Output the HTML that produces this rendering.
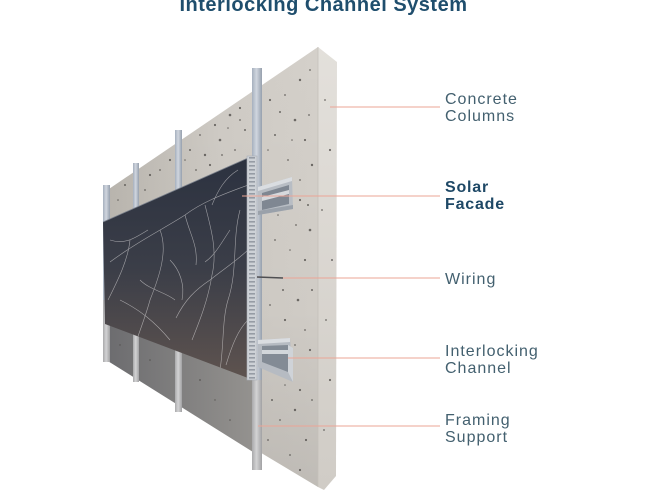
<!DOCTYPE html>
<html>
<head>
<meta charset="utf-8">
<style>
  html,body{margin:0;padding:0;background:#ffffff;}
  body{width:650px;height:492px;overflow:hidden;}
  svg{display:block;}
  .lbl{font-family:"Liberation Sans",Arial,sans-serif;font-size:16px;letter-spacing:1px;fill:#43606f;}
  .bold{font-weight:bold;fill:#1e4866;letter-spacing:0.8px;}
</style>
</head>
<body>
<svg width="650" height="492" viewBox="0 0 650 492" xmlns="http://www.w3.org/2000/svg">
  <defs>
    <linearGradient id="face" x1="103" y1="0" x2="318" y2="0" gradientUnits="userSpaceOnUse">
      <stop offset="0" stop-color="#b9b5ae"/>
      <stop offset="0.55" stop-color="#cfcbc5"/>
      <stop offset="1" stop-color="#d4d0ca"/>
    </linearGradient>
    <linearGradient id="faceV" x1="0" y1="47" x2="0" y2="490" gradientUnits="userSpaceOnUse">
      <stop offset="0" stop-color="#000" stop-opacity="0"/>
      <stop offset="0.6" stop-color="#000" stop-opacity="0.02"/>
      <stop offset="1" stop-color="#000" stop-opacity="0.1"/>
    </linearGradient>
    <linearGradient id="endf" x1="0" y1="47" x2="0" y2="490" gradientUnits="userSpaceOnUse">
      <stop offset="0" stop-color="#e3e0db"/>
      <stop offset="1" stop-color="#d0ccc6"/>
    </linearGradient>
    <linearGradient id="shadow" x1="103" y1="0" x2="253" y2="0" gradientUnits="userSpaceOnUse">
      <stop offset="0" stop-color="#6b6b6e"/>
      <stop offset="1" stop-color="#94928f"/>
    </linearGradient>
    <linearGradient id="panel" x1="0" y1="158" x2="0" y2="378" gradientUnits="userSpaceOnUse">
      <stop offset="0" stop-color="#2c3240"/>
      <stop offset="0.5" stop-color="#3b3e48"/>
      <stop offset="1" stop-color="#5e534f"/>
    </linearGradient>
    <linearGradient id="post" x1="0" y1="0" x2="1" y2="0">
      <stop offset="0" stop-color="#a6b0be"/>
      <stop offset="0.45" stop-color="#d0d6df"/>
      <stop offset="1" stop-color="#96a0ad"/>
    </linearGradient>
    <linearGradient id="postG" x1="0" y1="0" x2="1" y2="0">
      <stop offset="0" stop-color="#a9a9ab"/>
      <stop offset="0.45" stop-color="#d3d3d4"/>
      <stop offset="1" stop-color="#a2a2a4"/>
    </linearGradient>
    <pattern id="perf" x="247" y="156" width="10" height="4" patternUnits="userSpaceOnUse">
      <rect x="0" y="0" width="10" height="4" fill="#cdd1d6"/>
      <rect x="2" y="1" width="6" height="1.6" fill="#969ca5"/>
    </pattern>
    <clipPath id="pc">
      <polygon points="103,222 248,158 248,378 105,324"/>
    </clipPath>
  </defs>

  <!-- Title -->
  <text x="323.5" y="11" text-anchor="middle" font-family="Liberation Sans, Arial, sans-serif" font-size="20" font-weight="bold" letter-spacing="0.5" fill="#1f4e6d">Interlocking Channel System</text>

  <!-- Wall front face -->
  <polygon points="318,47 103,193 103,358 318,487" fill="url(#face)"/>
  <polygon points="318,47 103,193 103,358 318,487" fill="url(#faceV)"/>
  <!-- shadow below panel -->
  <polygon points="103,320 253,376 253,452 103,358" fill="url(#shadow)"/>
  <!-- End face -->
  <polygon points="318,47 337,62 336,476 324,490 318,487" fill="url(#endf)"/>
  <line x1="318" y1="47" x2="318" y2="487" stroke="#c4c0ba" stroke-width="0.8"/>

  <!-- speckles -->
  <g fill="#4a4744" opacity="0.75">
    <circle cx="270" cy="100" r="1.1"/><circle cx="285" cy="95" r="0.9"/><circle cx="300" cy="80" r="1.2"/>
    <circle cx="310" cy="70" r="0.9"/><circle cx="295" cy="120" r="1.3"/><circle cx="275" cy="135" r="1"/>
    <circle cx="305" cy="140" r="1.1"/><circle cx="288" cy="160" r="0.9"/><circle cx="312" cy="165" r="1.2"/>
    <circle cx="268" cy="150" r="0.8"/><circle cx="300" cy="200" r="1.1"/><circle cx="310" cy="230" r="1.3"/>
    <circle cx="296" cy="225" r="0.9"/><circle cx="305" cy="260" r="1.1"/><circle cx="290" cy="250" r="0.8"/>
    <circle cx="312" cy="290" r="1"/><circle cx="298" cy="300" r="1.3"/><circle cx="270" cy="305" r="0.9"/>
    <circle cx="285" cy="320" r="1.1"/><circle cx="305" cy="330" r="0.9"/><circle cx="300" cy="390" r="1.1"/>
    <circle cx="312" cy="400" r="0.9"/><circle cx="295" cy="410" r="1.2"/><circle cx="280" cy="420" r="0.9"/>
    <circle cx="306" cy="440" r="1.1"/><circle cx="290" cy="455" r="0.9"/><circle cx="300" cy="470" r="1.1"/>
    <circle cx="272" cy="400" r="1"/><circle cx="310" cy="350" r="1.1"/><circle cx="275" cy="240" r="0.9"/>
    <circle cx="280" cy="112" r="1"/><circle cx="292" cy="140" r="0.8"/><circle cx="266" cy="190" r="0.9"/>
    <circle cx="300" cy="180" r="0.9"/><circle cx="278" cy="215" r="0.8"/><circle cx="308" cy="205" r="1"/>
    <circle cx="283" cy="290" r="1"/><circle cx="295" cy="345" r="0.9"/><circle cx="276" cy="360" r="0.8"/>
    <circle cx="268" cy="440" r="0.9"/><circle cx="285" cy="385" r="0.8"/><circle cx="309" cy="115" r="0.9"/>
    <circle cx="240" cy="108" r="1.1"/><circle cx="230" cy="115" r="1.3"/><circle cx="245" cy="130" r="1"/>
    <circle cx="215" cy="125" r="1.1"/><circle cx="220" cy="140" r="1.3"/><circle cx="200" cy="135" r="0.9"/>
    <circle cx="205" cy="155" r="1.2"/><circle cx="190" cy="150" r="1"/><circle cx="170" cy="160" r="1.1"/>
    <circle cx="160" cy="170" r="0.9"/><circle cx="150" cy="175" r="1.1"/><circle cx="125" cy="185" r="1"/>
    <circle cx="235" cy="150" r="0.9"/><circle cx="210" cy="165" r="1.1"/><circle cx="228" cy="128" r="0.8"/>
    <circle cx="196" cy="170" r="0.9"/><circle cx="240" cy="120" r="0.9"/><circle cx="185" cy="160" r="0.8"/>
    <circle cx="145" cy="190" r="0.9"/><circle cx="118" cy="200" r="0.8"/><circle cx="222" cy="155" r="0.9"/>
    <circle cx="325" cy="100" r="0.9"/><circle cx="330" cy="150" r="1.1"/><circle cx="322" cy="210" r="0.9"/>
    <circle cx="332" cy="260" r="1"/><circle cx="326" cy="320" r="0.9"/><circle cx="330" cy="380" r="1.1"/>
    <circle cx="324" cy="430" r="0.9"/>
    <circle cx="150" cy="360" r="0.8"/><circle cx="200" cy="380" r="0.9"/><circle cx="230" cy="420" r="0.8"/>
    <circle cx="120" cy="345" r="0.7"/><circle cx="180" cy="395" r="0.8"/><circle cx="215" cy="400" r="0.7"/>
  </g>

  <!-- posts behind panel -->
  <rect x="103" y="185" width="7" height="177" fill="url(#post)"/>
  <rect x="133" y="163" width="6" height="219" fill="url(#post)"/>
  <rect x="175" y="130" width="7" height="282" fill="url(#post)"/>
  <rect x="103" y="300" width="7" height="62" fill="url(#postG)"/>
  <rect x="133" y="300" width="6" height="82" fill="url(#postG)"/>
  <rect x="175" y="300" width="7" height="112" fill="url(#postG)"/>
  <!-- post 1 -->
  <rect x="252" y="68" width="10" height="402" fill="url(#post)"/>
  <rect x="252" y="380" width="10" height="90" fill="url(#postG)"/>

  <!-- Panel -->
  <polygon points="103,222 248,158 248,378 105,324" fill="url(#panel)"/>
  <g clip-path="url(#pc)" fill="none" stroke="#e6e4e4" stroke-width="0.6" opacity="0.6">
    <path d="M248,185 C230,192 205,200 185,215 C165,228 140,240 110,262"/>
    <path d="M205,205 C210,225 218,250 212,275 C208,300 200,320 192,340"/>
    <path d="M240,210 C232,240 238,270 228,300 C222,320 224,345 220,370"/>
    <path d="M160,230 C168,250 160,275 150,300 C146,315 140,330 135,345"/>
    <path d="M248,250 C235,262 225,268 210,280 C195,290 185,300 176,318"/>
    <path d="M130,240 C128,260 118,280 108,300"/>
    <path d="M185,215 C190,235 198,245 196,265"/>
    <path d="M238,170 C225,178 218,190 212,205"/>
    <path d="M120,300 C140,310 155,322 170,340"/>
    <path d="M248,320 C238,330 232,345 226,365"/>
    <path d="M170,260 C180,270 185,285 182,300"/>
    <path d="M110,240 C125,245 135,238 148,230"/>
    <path d="M230,230 C220,245 215,255 205,262"/>
    <path d="M140,280 C150,290 165,292 175,300"/>
  </g>
  <line x1="103" y1="222" x2="248" y2="158" stroke="#7b818c" stroke-width="0.8"/>

  <!-- perforated strip -->
  <rect x="247" y="156" width="10" height="224" fill="url(#perf)"/>
  <rect x="247" y="156" width="10" height="224" fill="none" stroke="#a9aeb5" stroke-width="0.6"/>

  <!-- upper bracket -->
  <polygon points="258,187 292,177 293,209 258,215" fill="#b8bdc4"/>
  <polygon points="258,187 292,177 292,181 258,191" fill="#dadde1"/>
  <polygon points="262,193 289,185 289,204 262,210" fill="#7f8792"/>
  <polygon points="262,197 289,190 289,194 262,201" fill="#d6d9dd"/>
  <polygon points="258,211 293,205 293,209 258,215" fill="#9aa1aa"/>

  <!-- lower bracket -->
  <polygon points="258,340 290,338 293,382 258,367" fill="#b6bbc2"/>
  <polygon points="258,340 290,338 290,342 258,344" fill="#dadde1"/>
  <polygon points="262,346 288,345 288,372 262,362" fill="#838b95"/>
  <polygon points="262,350 288,350 288,354 262,354" fill="#d2d6da"/>
  <polygon points="288,345 293,348 293,382 288,372" fill="#cfd3d8"/>

  <!-- wire -->
  <line x1="257" y1="277" x2="283" y2="278" stroke="#4f4f52" stroke-width="1.5"/>

  <!-- leader lines -->
  <g stroke="#eba596" stroke-width="1">
    <line x1="330" y1="107" x2="440" y2="107"/>
    <line x1="242" y1="196" x2="440" y2="196"/>
    <line x1="283" y1="278" x2="440" y2="278"/>
    <line x1="288" y1="358" x2="440" y2="358"/>
    <line x1="258" y1="426" x2="440" y2="426"/>
  </g>

  <!-- labels -->
  <text class="lbl" x="445" y="104">Concrete</text>
  <text class="lbl" x="445" y="121">Columns</text>
  <text class="lbl bold" x="445" y="192">Solar</text>
  <text class="lbl bold" x="445" y="209">Facade</text>
  <text class="lbl" x="445" y="284">Wiring</text>
  <text class="lbl" x="445" y="356">Interlocking</text>
  <text class="lbl" x="445" y="373">Channel</text>
  <text class="lbl" x="445" y="425">Framing</text>
  <text class="lbl" x="445" y="442">Support</text>
</svg>
</body>
</html>
